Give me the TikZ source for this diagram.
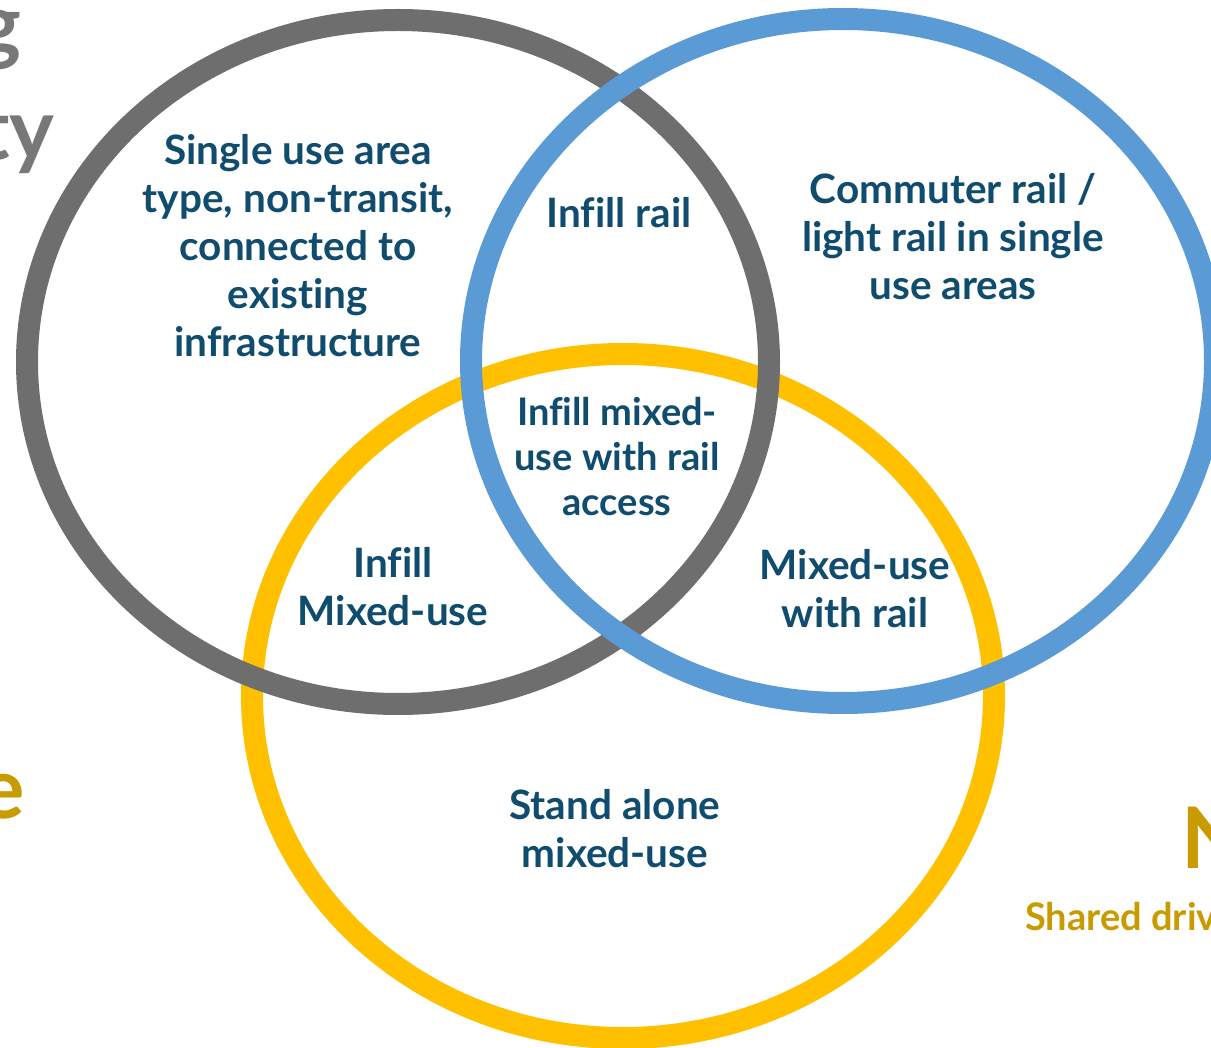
\documentclass[tikz,border=0pt]{standalone}
\usepackage{fontspec}
\setmainfont{Lato}[Ligatures=CommonOff]
\definecolor{ringgray}{HTML}{6E6E6E}
\definecolor{ringblue}{HTML}{5B9BD5}
\definecolor{ringyellow}{HTML}{FFC000}
\definecolor{txtblue}{HTML}{0F4C6E}
\definecolor{edgegray}{HTML}{787878}
\definecolor{edgegold}{HTML}{C89B00}
\begin{document}
\begin{tikzpicture}[x=1pt,y=-1pt,
  ring/.style={line width=22pt},
  lbl/.style={font=\bfseries\fontsize{40.5}{48}\selectfont, text=txtblue, align=center, inner sep=0pt},
  lbltight/.style={font=\bfseries\fontsize{38}{45}\selectfont, text=txtblue, align=center, inner sep=0pt},
  edgebig/.style={font=\bfseries\fontsize{85}{90}\selectfont, inner sep=0pt},
  edgesmall/.style={font=\bfseries\fontsize{38}{45}\selectfont, inner sep=0pt}]
\clip (0,0) rectangle (1211,1048);
\fill[white] (0,0) rectangle (1211,1048);
% edge texts (cut off by the frame)
\node[edgebig, text=edgegray, anchor=base east] (eg) at (22,55) {g};
\node[edgebig, text=edgegray, anchor=base east] (ety) at (55,160) {ty};
\node[edgebig, text=edgegold, anchor=base east] (ee) at (25,818) {e};
\node[edgebig, text=edgegold, anchor=base west] (eN) at (1181,868) {N};
\node[edgesmall, text=edgegold, anchor=base west] (eshared) at (1025,930) {Shared driv};
% rings
\draw[ring, ringyellow] (623,696) ellipse [x radius=371, y radius=342];
\draw[ring, ringgray] (398,362) ellipse [x radius=371, y radius=342];
\draw[ring, ringblue] (843,361) ellipse [x radius=372, y radius=342];
% labels
\node[lbl] (single) at (298,246) {Single use area\\type, non-transit,\\connected to\\existing\\infrastructure};
\node[lbl] (infillrail) at (619,213) {Infill rail};
\node[lbl] (commuter) at (953,237) {Commuter rail /\\light rail in single\\use areas};
\node[lbltight] (center) at (617,457) {Infill mixed-\\use with rail\\access};
\node[lbl] (infillmixed) at (393,587) {Infill\\Mixed-use};
\node[lbl] (mixedrail) at (855,589) {Mixed-use\\with rail};
\node[lbl] (stand) at (615,829) {Stand alone\\mixed-use};
\end{tikzpicture}
\end{document}
